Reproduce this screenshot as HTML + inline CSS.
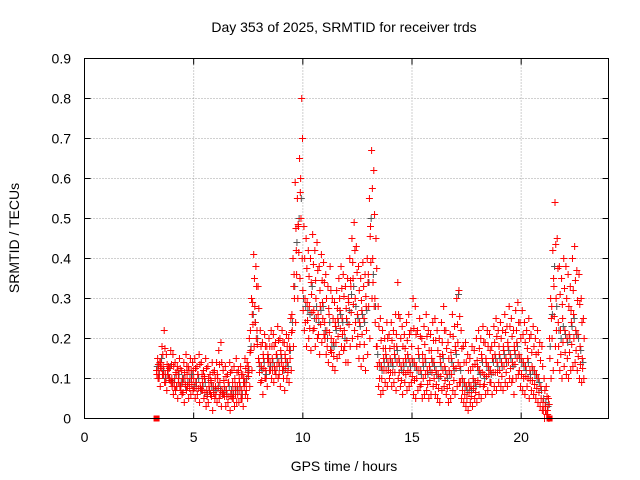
<!DOCTYPE html>
<html><head><meta charset="utf-8"><style>
html,body{margin:0;padding:0;background:#fff;}
svg{display:block;font-family:"Liberation Sans",sans-serif;}
</style></head><body>
<svg id="chart" width="640" height="480" viewBox="0 0 640 480">
<rect width="640" height="480" fill="#fff"/>
<text x="344" y="32" font-size="14" text-anchor="middle">Day 353 of 2025, SRMTID for receiver trds</text>
<text x="344" y="471" font-size="14" text-anchor="middle">GPS time / hours</text>
<text transform="translate(19,238) rotate(-90)" font-size="14" text-anchor="middle">SRMTID / TECUs</text>
<g id="grid"></g>
<g id="ticks"></g>
<g id="marks"></g>
<rect x="84.5" y="58.5" width="524" height="360" fill="none" stroke="#000"/>
</svg>
<script>
const xTicks = [0,5,10,15,20];
const yTicks = [0,0.1,0.2,0.3,0.4,0.5,0.6,0.7,0.8,0.9];
const yTickLabels = ["0","0.1","0.2","0.3","0.4","0.5","0.6","0.7","0.8","0.9"];
const hours = [3.3,3.4,3.5,3.6,3.7,3.8,3.9,
4.0,4.1,4.2,4.3,4.4,4.5,4.6,4.7,4.8,4.9,
5.0,5.1,5.2,5.3,5.4,5.5,5.6,5.7,5.8,5.9,
6.0,6.1,6.2,6.3,6.4,6.5,6.6,6.7,6.8,6.9,
7.0,7.1,7.2,7.3,7.4,7.5,7.6,7.7,7.8,7.9,
8.0,8.1,8.2,8.3,8.4,8.5,8.6,8.7,8.8,8.9,
9.0,9.1,9.2,9.3,9.4,9.5,9.6,9.7,9.8,9.9,
10.0,10.1,10.2,10.3,10.4,10.5,10.6,10.7,10.8,10.9,
11.0,11.1,11.2,11.3,11.4,11.5,11.6,11.7,11.8,11.9,
12.0,12.1,12.2,12.3,12.4,12.5,12.6,12.7,12.8,12.9,
13.0,13.1,13.2,13.3,13.4,13.5,13.6,13.7,13.8,13.9,
14.0,14.1,14.2,14.3,14.4,14.5,14.6,14.7,14.8,14.9,
15.0,15.1,15.2,15.3,15.4,15.5,15.6,15.7,15.8,15.9,
16.0,16.1,16.2,16.3,16.4,16.5,16.6,16.7,16.8,16.9,
17.0,17.1,17.2,17.3,17.4,17.5,17.6,17.7,17.8,17.9,
18.0,18.1,18.2,18.3,18.4,18.5,18.6,18.7,18.8,18.9,
19.0,19.1,19.2,19.3,19.4,19.5,19.6,19.7,19.8,19.9,
20.0,20.1,20.2,20.3,20.4,20.5,20.6,20.7,20.8,20.9,
21.0,21.1,21.2,21.3,21.4,21.5,21.6,21.7,21.8,21.9,
22.0,22.1,22.2,22.3,22.4,22.5,22.6,22.7,22.8];
const redHigh = [.15,.14,.18,.22,.16,.13,.17,
.16,.14,.13,.15,.12,.14,.16,.13,.15,.14,
.15,.13,.16,.14,.12,.15,.13,.11,.14,.12,
.14,.17,.19,.12,.13,.11,.14,.12,.13,.15,
.12,.13,.11,.15,.14,.20,.30,.41,.38,.33,
.22,.19,.21,.18,.20,.22,.21,.19,.23,.20,
.22,.19,.21,.20,.25,.40,.59,.55,.65,.80,
.48,.45,.42,.40,.46,.42,.44,.38,.41,.39,
.36,.33,.38,.30,.29,.32,.35,.38,.36,.33,
.35,.40,.45,.49,.43,.38,.35,.39,.36,.40,
.55,.67,.62,.45,.28,.25,.22,.20,.24,.21,
.24,.22,.26,.34,.25,.23,.21,.24,.26,.22,
.30,.28,.22,.25,.20,.23,.26,.22,.21,.24,
.25,.22,.20,.24,.28,.22,.19,.21,.26,.23,
.30,.32,.22,.18,.19,.16,.15,.18,.17,.20,
.22,.20,.23,.19,.22,.21,.18,.23,.25,.22,
.24,.22,.26,.23,.28,.25,.22,.27,.29,.24,
.27,.24,.22,.25,.21,.23,.20,.22,.19,.18,
.10,.08,.05,.30,.42,.54,.45,.38,.35,.40,
.38,.36,.33,.40,.43,.37,.36,.30,.25];
const redLow = [.10,.08,.11,.09,.07,.10,.09,
.06,.07,.05,.08,.06,.04,.07,.05,.06,.07,
.05,.06,.04,.07,.05,.03,.04,.06,.02,.05,
.04,.05,.03,.06,.03,.04,.02,.05,.03,.04,
.04,.05,.03,.06,.05,.08,.12,.18,.20,.15,
.09,.06,.10,.08,.12,.10,.09,.11,.10,.08,
.12,.07,.10,.09,.12,.18,.24,.30,.35,.40,
.22,.18,.20,.17,.22,.18,.20,.16,.19,.21,
.16,.14,.17,.13,.12,.15,.16,.18,.17,.14,
.14,.18,.20,.22,.18,.15,.13,.15,.12,.16,
.20,.30,.28,.18,.08,.06,.07,.09,.08,.10,
.08,.09,.07,.10,.08,.06,.09,.07,.08,.09,
.06,.05,.07,.08,.05,.06,.07,.05,.06,.08,
.06,.05,.04,.07,.08,.06,.04,.05,.07,.06,
.08,.09,.05,.04,.03,.02,.04,.03,.05,.04,
.06,.05,.08,.06,.07,.09,.06,.08,.07,.09,
.08,.07,.09,.08,.10,.09,.06,.10,.11,.08,
.07,.06,.08,.05,.07,.06,.05,.04,.03,.02,
.00,.01,.00,.10,.12,.18,.14,.12,.10,.13,
.11,.10,.12,.13,.14,.12,.10,.09,.10];
const redMid = [.12,.12,.14,.13,.11,.12,.10,
.10,.09,.11,.10,.08,.09,.10,.11,.09,.10,
.10,.09,.11,.08,.09,.10,.07,.08,.09,.08,
.08,.10,.09,.07,.08,.07,.09,.06,.07,.08,
.08,.09,.07,.10,.09,.13,.22,.29,.28,.22,
.14,.13,.15,.12,.16,.14,.15,.13,.16,.14,
.16,.13,.15,.14,.18,.26,.36,.42,.48,.60,
.32,.30,.29,.28,.31,.27,.30,.26,.28,.29,
.24,.22,.26,.20,.19,.23,.25,.27,.25,.22,
.25,.29,.33,.35,.30,.26,.24,.27,.25,.28,
.36,.48,.40,.30,.18,.14,.13,.15,.16,.14,
.15,.14,.16,.18,.15,.13,.14,.15,.16,.14,
.15,.14,.13,.16,.12,.14,.15,.12,.13,.15,
.14,.12,.11,.14,.16,.13,.11,.12,.15,.13,
.17,.19,.13,.10,.09,.08,.09,.08,.10,.09,
.13,.12,.15,.11,.14,.13,.12,.15,.16,.14,
.16,.14,.17,.15,.18,.16,.14,.17,.19,.16,
.15,.14,.13,.15,.12,.13,.12,.11,.10,.08,
.04,.03,.02,.20,.28,.33,.30,.24,.22,.25,
.22,.20,.21,.24,.26,.22,.21,.18,.15];
const grey = [.13,.11,.15,.12,.10,.11,.13,
.09,.10,.08,.11,.09,.10,.08,.09,.10,.11,
.08,.09,.10,.07,.08,.09,.06,.07,.08,.07,
.07,.08,.07,.06,.07,.06,.08,.07,.06,.07,
.07,.08,.06,.09,.10,.12,.18,.26,.24,.20,
.13,.12,.14,.11,.15,.13,.14,.12,.15,.13,
.15,.12,.14,.13,.17,.24,.33,.44,.50,.55,
.30,.28,.27,.26,.33,.25,.28,.24,.27,.28,
.22,.20,.24,.18,.18,.22,.24,.26,.24,.20,
.24,.27,.31,.33,.28,.25,.23,.26,.24,.27,
.34,.50,.36,.28,.16,.13,.12,.14,.15,.13,
.14,.13,.15,.17,.14,.12,.13,.14,.15,.13,
.14,.13,.12,.15,.11,.13,.14,.11,.12,.14,
.13,.11,.10,.13,.15,.12,.10,.11,.14,.12,
.16,.31,.12,.09,.08,.07,.08,.07,.09,.08,
.12,.11,.14,.10,.13,.12,.11,.14,.15,.13,
.15,.13,.16,.14,.17,.15,.13,.16,.18,.15,
.14,.13,.12,.14,.11,.12,.11,.10,.09,.07,
.05,.04,.03,.18,.26,.38,.28,.22,.20,.23,
.21,.19,.20,.23,.25,.21,.20,.17,.14];
const zeroHours = [3.3, 21.3];
const zeroValues = [0, 0];

const NS = "http://www.w3.org/2000/svg";
const X0 = 84.5, X1 = 608.5, Y0 = 418.5, Y1 = 58.5;
function xScale(h){ return X0 + (h/24)*(X1-X0); }
function yScale(v){ return Y0 - (v/0.9)*(Y0-Y1); }
function mk(tag, attrs, parent){ const e=document.createElementNS(NS,tag); for(const k in attrs) e.setAttribute(k,attrs[k]); parent.appendChild(e); return e; }
const grid = document.getElementById('grid');
const ticks = document.getElementById('ticks');
const marks = document.getElementById('marks');

yTicks.forEach((v,i)=>{
  const y = yScale(v);
  if(i>0 && i<yTicks.length-1){
    const g = mk('line',{x1:X0,x2:X1,y1:y,y2:y,stroke:'#a0a0a0','stroke-dasharray':'1,2'},grid);
    
    
  }
  const t1 = mk('line',{x1:X0,x2:X0+6,y1:y,y2:y,stroke:'#000'},ticks);
  
  
  const t2 = mk('line',{x1:X1-6,x2:X1,y1:y,y2:y,stroke:'#000'},ticks);
  
  
  const lb = mk('text',{x:71,y:y+5,'font-size':14,'text-anchor':'end'},ticks);
  lb.textContent = yTickLabels[i];
  
  
});
xTicks.forEach(h=>{
  const x = xScale(h);
  if(h>0){
    const g = mk('line',{x1:x,x2:x,y1:Y1,y2:Y0,stroke:'#a0a0a0','stroke-dasharray':'1,2'},grid);
    
    
  }
  const t1 = mk('line',{x1:x,x2:x,y1:Y0,y2:Y0-6,stroke:'#000'},ticks);
  
  
  const t2 = mk('line',{x1:x,x2:x,y1:Y1,y2:Y1+6,stroke:'#000'},ticks);
  
  
  const lb = mk('text',{x:x,y:442,'font-size':14,'text-anchor':'middle'},ticks);
  lb.textContent = String(h);
  
  
});
function plus(h,v,color,name){
  const x = xScale(h), y = yScale(v);
  const p = mk('path',{d:`M${x-3.5},${y}H${x+3.5}M${x},${y-3.5}V${y+3.5}`,stroke:color,'stroke-width':1,fill:'none'},marks);
  
  
}
hours.forEach((h,i)=>plus(h+0.03,grey[i],'#555','grey-point'));
hours.forEach((h,i)=>plus(h,redMid[i],'#f00','red-point'));
hours.forEach((h,i)=>plus(h+0.05,redHigh[i],'#f00','red-point'));
hours.forEach((h,i)=>plus(h+0.07,redLow[i],'#f00','red-point'));
hours.forEach((h,i)=>plus(h+0.085,(redHigh[i]+redMid[i])/2,'#f00','red-point'));
hours.forEach((h,i)=>plus(h+0.015,(redLow[i]+redMid[i])/2,'#f00','red-point'));
zeroHours.forEach((h,i)=>{
  const r = mk('rect',{x:xScale(h)-3,y:yScale(zeroValues[i])-3,width:6,height:6,fill:'#f00'},marks);
  
  
});
</script>
</body></html>
